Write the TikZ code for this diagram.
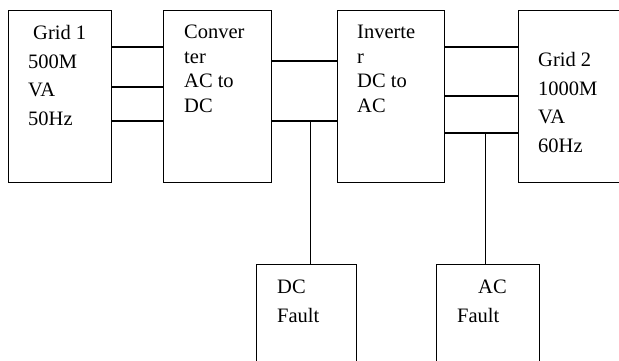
\documentclass[tikz,border=0pt]{standalone}
\usepackage{fontspec}
\setmainfont{Liberation Serif}
\usetikzlibrary{positioning,calc}

\begin{document}
\begin{tikzpicture}[x=1pt, y=-1pt,
  box/.style={draw, line width=1.2pt, inner sep=0pt, anchor=north west},
  txt/.style={anchor=base west, align=left, inner sep=0pt, font=\fontsize{20.5}{28.5}\selectfont},
  txtn/.style={txt, font=\fontsize{20.5}{24.5}\selectfont},
  wire/.style={line width=1.2pt},
]
\useasboundingbox (0,0) rectangle (619,360);
\clip (0,0) rectangle (619,360);

% boxes of the link
\node[box, minimum width=103pt, minimum height=172pt] (grid1) at (8,10) {};
\node[box, minimum width=108pt, minimum height=172pt] (conv) at (163,10) {};
\node[box, minimum width=107pt, minimum height=172pt] (inv) at (337,10) {};
\node[box, minimum width=110pt, minimum height=172pt] (grid2) at (518,10) {};
\node[box, minimum width=100pt, minimum height=120pt] (dcf) at (256,264) {};
\node[box, minimum width=103pt, minimum height=120pt] (acf) at (436,264) {};

% texts (anchored at the baseline of the last line)
\node[txt] (grid1t) at ([shift={(20pt,-115pt)}]grid1.north west) {\hspace{5pt}Grid 1\\500M\\VA\\50Hz};
\node[txtn] (convt) at ([shift={(21pt,-102pt)}]conv.north west) {Conver\\ter\\AC to\\DC};
\node[txtn] (invt) at ([shift={(20pt,-102pt)}]inv.north west) {Inverte\\r\\DC to\\AC};
\node[txt] (grid2t) at ([shift={(20pt,-142pt)}]grid2.north west) {Grid 2\\1000M\\VA\\60Hz};
\node[txt] (dcft) at ([shift={(21pt,-58pt)}]dcf.north west) {DC\\Fault};
\node[txt] (acft) at ([shift={(21pt,-58pt)}]acf.north west) {\hspace{21pt}AC\\Fault};

% grid 1 to converter
\foreach \dy in {37,77,111}
  \draw[wire] ([yshift=-\dy pt]grid1.north east) -- ([yshift=-\dy pt]conv.north west);

% converter to inverter, dc fault branch
\draw[wire] ([yshift=-51pt]conv.north east) -- ([yshift=-51pt]inv.north west);
\draw[wire] ([yshift=-111pt]conv.north east) -- ([yshift=-111pt]inv.north west)
  coordinate[pos=0.59] (j1);
\draw[wire] (j1) -- (j1 |- dcf.north);

% inverter to grid 2, ac fault branch
\draw[wire] ([yshift=-37pt]inv.north east) -- ([yshift=-37pt]grid2.north west);
\draw[wire] ([yshift=-86pt]inv.north east) -- ([yshift=-86pt]grid2.north west);
\draw[wire] ([yshift=-123pt]inv.north east) -- ([yshift=-123pt]grid2.north west)
  coordinate[pos=0.554] (j2);
\draw[wire] (j2) -- (j2 |- acf.north);
\end{tikzpicture}
\end{document}
